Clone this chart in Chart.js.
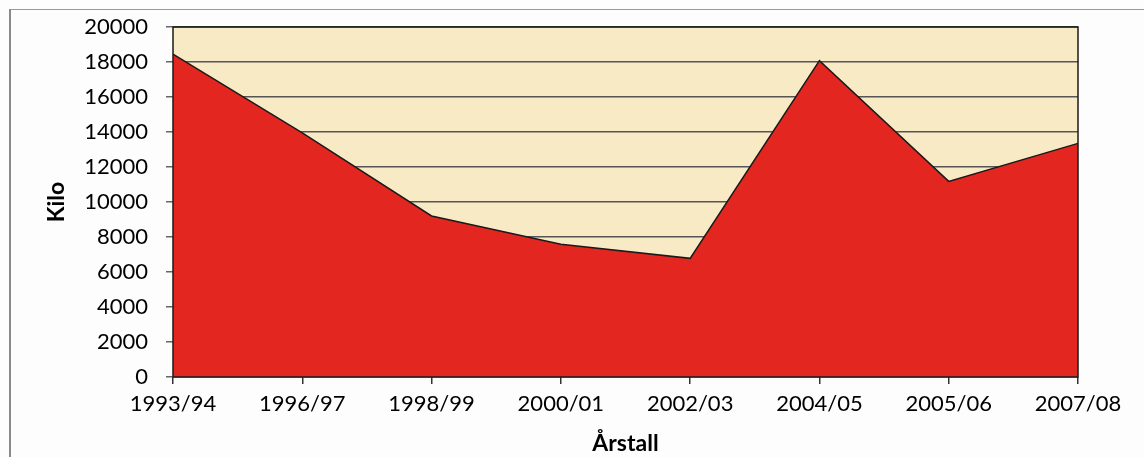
<!DOCTYPE html>
<html>
<head>
<meta charset="utf-8">
<script src="https://cdn.jsdelivr.net/npm/chart.js@4.4.1/dist/chart.umd.min.js"></script>
<style>
  html, body { margin: 0; padding: 0; background: #fdfdfd; }
  #wrap { position: relative; width: 1144px; height: 457px; }
  #frame { position: absolute; left: 9px; top: 9px; right: -5px; bottom: -5px;
           border-left: 2px solid #8a8a8a; border-top: 1px solid #9a9a9a; }
  canvas { position: absolute; left: 0; top: 0; }
</style>
</head>
<body>
<div id="wrap">
  <div id="frame"></div>
  <canvas id="chart" width="1144" height="457"></canvas>
</div>
<script>
// årstall och kilo
const years = ["1993/94", "1996/97", "1998/99", "2000/01", "2002/03", "2004/05", "2005/06", "2007/08"];
const kilo = [18450, 13950, 9200, 7580, 6780, 18080, 11180, 13350];
const yTicks = [0, 2000, 4000, 6000, 8000, 10000, 12000, 14000, 16000, 18000, 20000];

const fontFam = "Lato, 'Open Sans', sans-serif";

// beige bakgrund + svart ram runt ritytan
const plotBg = {
    id: "plotBg",
    beforeDraw(chart) {
        const a = chart.chartArea;
        const ctx = chart.ctx;
        ctx.save();
        ctx.fillStyle = "#f9eac6";
        ctx.fillRect(a.left, a.top, a.right - a.left, a.bottom - a.top);
        ctx.restore();
    },
    afterDraw(chart) {
        const a = chart.chartArea;
        const ctx = chart.ctx;
        ctx.save();
        ctx.strokeStyle = "#1a1a1a";
        ctx.lineWidth = 1.5;
        ctx.strokeRect(a.left, a.top, a.right - a.left, a.bottom - a.top);
        ctx.restore();
    }
};

let ctx = document.getElementById("chart").getContext("2d");

new Chart(ctx, {
    type: "line",
    data: {
        labels: years,
        datasets: [{
            data: kilo,
            fill: "origin",
            backgroundColor: "#e3261f",
            borderColor: "#1a1a1a",
            borderWidth: 1.5,
            pointRadius: 0,
            tension: 0
        }]
    },
    options: {
        responsive: false,
        animation: false,
        layout: { padding: { top: 27, right: 66, left: 38, bottom: 0 } },
        plugins: {
            legend: { display: false },
            tooltip: { enabled: false }
        },
        scales: {
            x: {
                offset: false,
                grid: { drawOnChartArea: false, tickLength: 7, color: "#333", lineWidth: 1.5 },
                border: { display: false },
                ticks: {
                    color: "#000",
                    font: { family: fontFam, size: 22 },
                    padding: 7,
                    maxRotation: 0,
                    autoSkip: false
                },
                title: {
                    display: true,
                    text: "Årstall",
                    color: "#000",
                    font: { family: fontFam, size: 23, weight: "bold" },
                    padding: { top: 1, bottom: 0 }
                },
                afterFit(scale) {
                    scale.height = 80;
                    scale.paddingLeft = 0;
                    scale.paddingRight = 0;
                }
            },
            y: {
                min: 0,
                max: 20000,
                afterBuildTicks(scale) { scale.ticks = yTicks.map(v => ({ value: v })); },
                grid: { color: "#555", lineWidth: 1.5, tickLength: 7, tickColor: "#666" },
                border: { display: false },
                ticks: {
                    color: "#000",
                    font: { family: fontFam, size: 22 },
                    padding: 18,
                    callback: (v) => String(v)
                },
                title: {
                    display: true,
                    text: "Kilo",
                    color: "#000",
                    font: { family: fontFam, size: 23, weight: "bold" },
                    padding: { top: 5, bottom: 0 }
                },
                afterFit(scale) {
                    scale.width = 135;
                    scale.paddingTop = 0;
                    scale.paddingBottom = 0;
                }
            }
        }
    },
    plugins: [plotBg]
});
</script>
</body>
</html>
